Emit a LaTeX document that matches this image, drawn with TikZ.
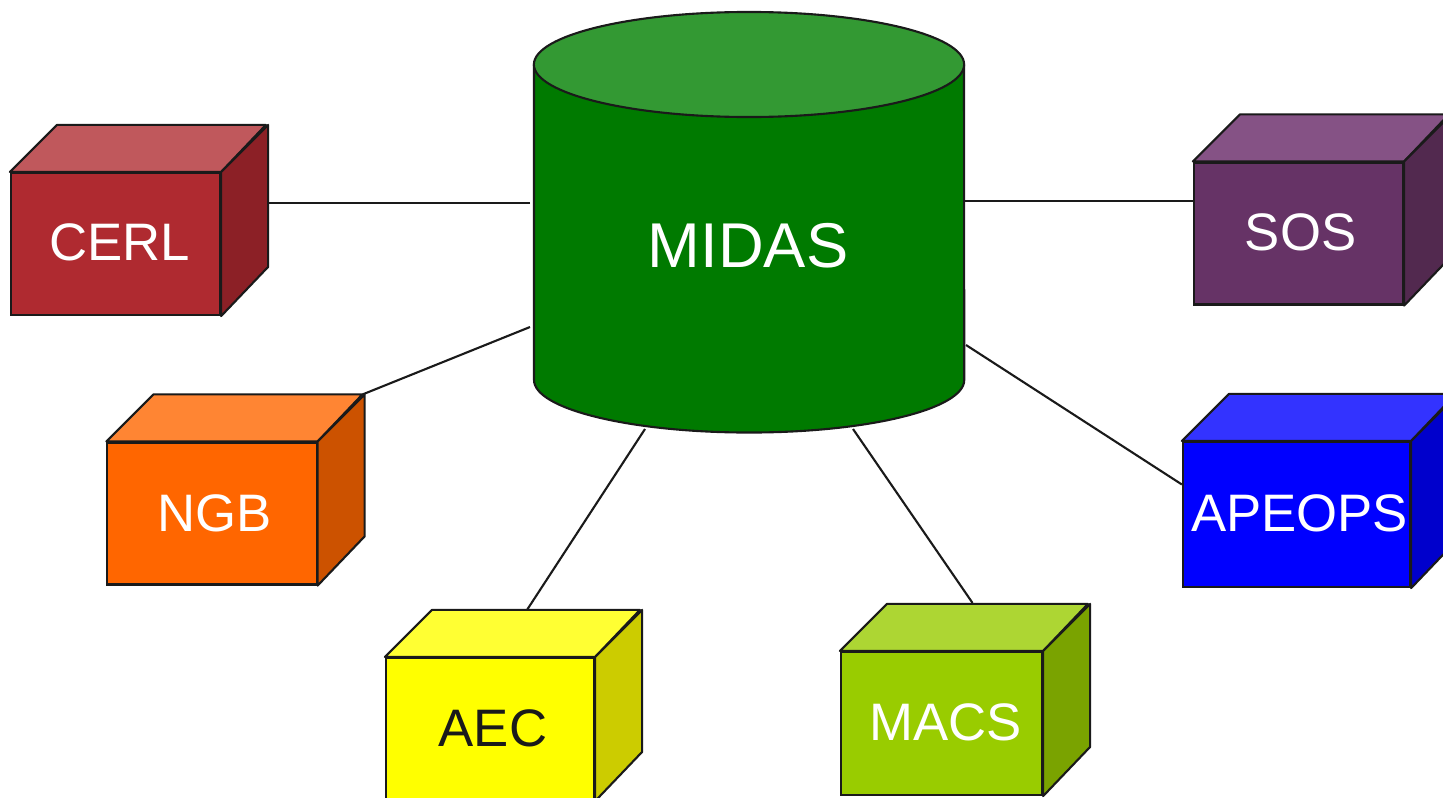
\documentclass[tikz,border=0pt]{standalone}
\usepackage{fontspec}
\setmainfont{Liberation Sans}
\usetikzlibrary{calc}

% face colours
\definecolor{dbbody}{HTML}{007A00}
\definecolor{dbtop}{HTML}{339933}
\definecolor{cerlfront}{HTML}{AF2A30}
\definecolor{cerltop}{HTML}{C0585C}
\definecolor{cerlside}{HTML}{8C2026}
\definecolor{ngbfront}{HTML}{FF6600}
\definecolor{ngbtop}{HTML}{FF8533}
\definecolor{ngbside}{HTML}{CC5200}
\definecolor{aecfront}{HTML}{FFFF00}
\definecolor{aectop}{HTML}{FFFF33}
\definecolor{aecside}{HTML}{CCCC00}
\definecolor{macsfront}{HTML}{99CC00}
\definecolor{macstop}{HTML}{ADD633}
\definecolor{macsside}{HTML}{7AA300}
\definecolor{apeopsfront}{HTML}{0000FF}
\definecolor{apeopstop}{HTML}{3333FF}
\definecolor{apeopsside}{HTML}{0000CC}
\definecolor{sosfront}{HTML}{663366}
\definecolor{sostop}{HTML}{855285}
\definecolor{sosside}{HTML}{52294F}
\definecolor{edge}{HTML}{1A1A1A}

\tikzset{
	box/.style = {draw = edge,
				  line width = 0.6pt,
				  shape = rectangle,
				  inner sep = 0pt,
				  minimum width = 2.09cm,
				  minimum height = 1.42cm,
				  text = white,
				  font = \fontsize{15pt}{15pt}\selectfont},
	face/.style = {draw = edge, line width = 0.6pt, line join = round},
	link/.style = {draw = edge, line width = 0.6pt}
}

\begin{document}
\begin{tikzpicture}[x = 0.01cm, y = -0.01cm]
	\useasboundingbox (0, 0) rectangle (1443, 797);

	% database cylinder
	\draw[face, fill = dbbody] (534, 64.5) -- (534, 380)
		arc[start angle = 180, end angle = 360, x radius = 2.15cm, y radius = 0.525cm]
		-- (964, 64.5) -- cycle;
	\draw[face, fill = dbtop] (749, 64.5) ellipse[x radius = 2.15cm, y radius = 0.525cm];
	\draw (748, 246) node[text = white,
					  font = \fontsize{18pt}{18pt}\selectfont
			   ](midas){MIDAS};

	\coordinate (db-cerl) at (530, 203);
	\coordinate (db-ngb) at (530, 327);
	\coordinate (db-aec) at (645, 429);
	\coordinate (db-macs) at (853, 429);
	\coordinate (db-apeops) at (966, 345);
	\coordinate (db-sos) at (963, 201);

	% front faces
	\draw (115.5, 244) node[box, fill = cerlfront](cerl){};
	\draw (212, 513.5) node[box, fill = ngbfront](ngb){};
	\draw (490, 729) node[box, fill = aecfront,
						  minimum width = 2.08cm](aec){};
	\draw (941.5, 723.5) node[box, fill = macsfront,
						  minimum width = 2.01cm,
						  minimum height = 1.43cm](macs){};
	\draw (1296.5, 514.5) node[box, fill = apeopsfront,
						  minimum width = 2.27cm,
						  minimum height = 1.45cm](apeops){};
	\draw (1298.5, 233.5) node[box, fill = sosfront](sos){};

	% connectors
	\draw[link] (db-cerl) -- ($(cerl.east) + (47, -41)$);
	\draw[link] (db-ngb) -- ($(ngb.north east) + (45, -47)$);
	\draw[link] (db-aec) -- ($(aec.north) + (37, -47)$);
	\draw[link] (db-macs) -- ($(macs.north) + (31, -48)$);
	\draw[link] (db-apeops) -- ($(apeops.west) + (0, -30)$);
	\draw[link] (db-sos) -- (db-sos -| sos.west);

	% top and side faces
	\draw[face, fill = cerltop] (cerl.north west) -- ++(47, -47) -- ++(209, 0) -- (cerl.north east) -- cycle;
	\draw[face, fill = cerlside] (cerl.north east) -- ++(47, -47) -- ++(0, 142) -- (cerl.south east) -- cycle;

	\draw[face, fill = ngbtop] (ngb.north west) -- ++(47, -47) -- ++(209, 0) -- (ngb.north east) -- cycle;
	\draw[face, fill = ngbside] (ngb.north east) -- ++(47, -47) -- ++(0, 142) -- (ngb.south east) -- cycle;

	\draw[face, fill = aectop] (aec.north west) -- ++(47, -47) -- ++(208, 0) -- (aec.north east) -- cycle;
	\draw[face, fill = aecside] (aec.north east) -- ++(47, -47) -- ++(0, 142) -- (aec.south east) -- cycle;

	\draw[face, fill = macstop] (macs.north west) -- ++(47, -47) -- ++(201, 0) -- (macs.north east) -- cycle;
	\draw[face, fill = macsside] (macs.north east) -- ++(47, -47) -- ++(0, 143) -- (macs.south east) -- cycle;

	\draw[face, fill = apeopstop] (apeops.north west) -- ++(47, -47) -- ++(227, 0) -- (apeops.north east) -- cycle;
	\draw[face, fill = apeopsside] (apeops.north east) -- ++(47, -47) -- ++(0, 145) -- (apeops.south east) -- cycle;

	\draw[face, fill = sostop] (sos.north west) -- ++(47, -47) -- ++(209, 0) -- (sos.north east) -- cycle;
	\draw[face, fill = sosside] (sos.north east) -- ++(47, -47) -- ++(0, 142) -- (sos.south east) -- cycle;

	% labels
	\node[text = white, font = \fontsize{15pt}{15pt}\selectfont] at ($(cerl) + (4, -2)$) {CERL};
	\node[text = white, font = \fontsize{15pt}{15pt}\selectfont] at ($(ngb) + (3, 0)$) {NGB};
	\node[text = edge, font = \fontsize{15pt}{15pt}\selectfont] at ($(aec) + (3, -1)$) {AEC};
	\node[text = white, font = \fontsize{15pt}{15pt}\selectfont] at ($(macs) + (4, -1)$) {MACS};
	\node[text = white, font = \fontsize{15pt}{15pt}\selectfont] at ($(apeops) + (3, -1)$) {APEOPS};
	\node[text = white, font = \fontsize{15pt}{15pt}\selectfont] at ($(sos) + (2, -1)$) {SOS};
\end{tikzpicture}
\end{document}
